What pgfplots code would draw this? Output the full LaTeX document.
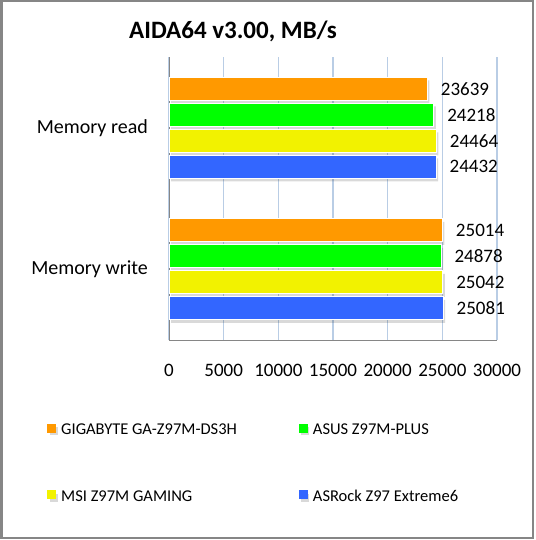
\documentclass[border=0pt]{standalone}
\usepackage{pgfplots}
\pgfplotsset{compat=1.18}
\usepackage{fontspec}
\setmainfont{Carlito}
\definecolor{c1}{RGB}{255,153,0}
\definecolor{c2}{RGB}{0,255,0}
\definecolor{c3}{RGB}{242,242,0}
\definecolor{c4}{RGB}{51,102,255}
\definecolor{gridblue}{RGB}{185,205,229}
\definecolor{axisgray}{RGB}{134,134,134}
\begin{document}
\begin{tikzpicture}
\useasboundingbox (0,0) rectangle (535pt,-540pt);
\fill[white] (0,0) rectangle (535pt,-540pt);
\draw[axisgray, line width=2.4pt] (1.5pt,-1.2pt) rectangle (532.8pt,-537.8pt);
\node[font=\fontsize{25}{25}\selectfont\bfseries] at (233pt,-31pt) {AIDA64 v3.00, MB/s};
\begin{axis}[
  at={(169pt,-340pt)}, anchor=south west,
  scale only axis, width=328pt, height=283pt,
  xbar, bar width=23pt,
  xmin=0, xmax=30000, ymin=-0.5, ymax=1.5,
  ytick={0,1}, yticklabels={Memory write, Memory read},
  xtick={0,5000,...,30000},
  scaled x ticks=false,
  /pgf/number format/assume math mode=true,
  /pgf/number format/1000 sep={},
  axis x line*=bottom, axis y line*=left,
  axis line style={draw=axisgray, line width=1pt, -},
  xmajorgrids, grid style={gridblue, line width=1.2pt},
  major tick length=0pt,
  xticklabel style={font=\fontsize{19}{19}\selectfont, anchor=center, inner sep=0pt, yshift=-30pt},
  yticklabel style={font=\fontsize{20}{20}\selectfont, anchor=east, inner sep=0pt, xshift=-21pt},
  nodes near coords,
  every node near coord/.append style={font=\fontsize{19}{19}\selectfont, anchor=west, inner sep=0pt, xshift=13pt, black},
  legend columns=2,
  legend style={at={(axis description cs:-0.372,-0.29)}, anchor=north west, draw=none, fill=none, inner sep=0pt,
    font=\fontsize{16.5}{16.5}\selectfont, row sep=50pt,
    /tikz/every even column/.append style={column sep=60pt}},
  legend cell align=left,
  clip=false,
  every axis plot/.append style={draw=white, line width=1pt,
    preaction={fill=black, fill opacity=0.15, draw=none, transform canvas={xshift=2pt, yshift=-3pt}}},
]
\addlegendimage{legend image code/.code={\fill[c1] (0pt,-2pt) rectangle (8pt,6pt); \path (11pt,0pt);}}
\addlegendentry{GIGABYTE GA-Z97M-DS3H}
\addlegendimage{legend image code/.code={\fill[c2] (0pt,-2pt) rectangle (8pt,6pt); \path (11pt,0pt);}}
\addlegendentry{ASUS Z97M-PLUS}
\addlegendimage{legend image code/.code={\fill[c3] (0pt,-2pt) rectangle (8pt,6pt); \path (11pt,0pt);}}
\addlegendentry{MSI Z97M GAMING}
\addlegendimage{legend image code/.code={\fill[c4] (0pt,-2pt) rectangle (8pt,6pt); \path (11pt,0pt);}}
\addlegendentry{ASRock Z97 Extreme6}
\addplot[forget plot, fill=c1, bar shift=39pt] coordinates {(25014,0) (23639,1)};
\addplot[forget plot, fill=c2, bar shift=13pt] coordinates {(24878,0) (24218,1)};
\addplot[forget plot, fill=c3, bar shift=-13pt] coordinates {(25042,0) (24464,1)};
\addplot[forget plot, fill=c4, bar shift=-39pt] coordinates {(25081,0) (24432,1)};
\end{axis}
\end{tikzpicture}
\end{document}
